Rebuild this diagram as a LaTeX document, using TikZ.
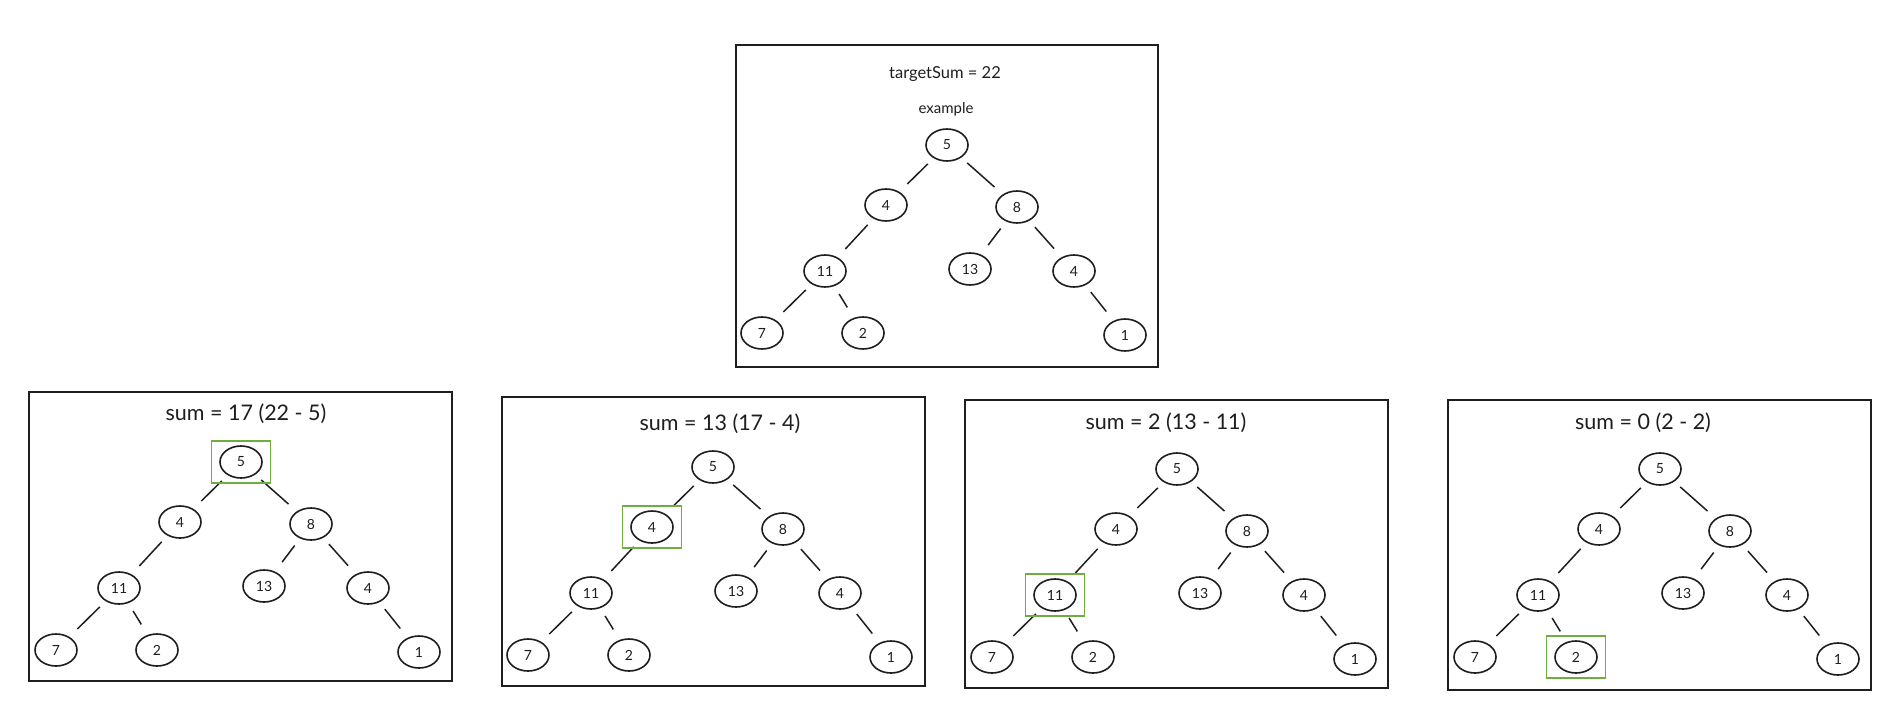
\documentclass[tikz,border=0pt]{standalone}
\usepackage{fontspec}
\setmainfont{Lato}
\usetikzlibrary{shapes.geometric}
\definecolor{ink}{HTML}{1E1E1E}
\definecolor{hlgreen}{HTML}{6FAE3E}

\tikzset{
  tnode/.style={ellipse, draw=ink, line width=1.6pt, minimum width=42pt,
    minimum height=32pt, inner sep=0pt, font=\fontsize{14}{16}\selectfont, text=ink},
  tedge/.style={draw=ink, line width=1.5pt, shorten <=27pt, shorten >=30pt},
  boxframe/.style={draw=ink, line width=1.4pt},
  treetitle/.style={font=\fontsize{21.5}{24}\selectfont, text=ink},
  smalltitle/.style={font=\fontsize{15}{18}\selectfont, text=ink},
  hlbox/.style={draw=hlgreen, line width=1.5pt, minimum width=59pt,
    minimum height=42pt, inner sep=0pt},
}

% one copy of the tree: #1 name prefix, #2/#3 position of the root
\newcommand\bintree[3]{%
  \node[tnode] (#1r) at (#2,#3) {5};
  \node[tnode] (#1a) at ({#2-61},{#3+60}) {4};
  \node[tnode] (#1b) at ({#2+70},{#3+62}) {8};
  \node[tnode] (#1c) at ({#2-122},{#3+126}) {11};
  \node[tnode] (#1d) at ({#2+23},{#3+124}) {13};
  \node[tnode] (#1e) at ({#2+127},{#3+126}) {4};
  \node[tnode] (#1f) at ({#2-185},{#3+188}) {7};
  \node[tnode] (#1g) at ({#2-84},{#3+188}) {2};
  \node[tnode] (#1h) at ({#2+178},{#3+190}) {1};
  \draw[tedge] (#1r.center) -- (#1a.center);
  \draw[tedge] (#1r.center) -- (#1b.center);
  \draw[tedge] (#1a.center) -- (#1c.center);
  \draw[tedge] (#1b.center) -- (#1d.center);
  \draw[tedge] (#1b.center) -- (#1e.center);
  \draw[tedge] (#1c.center) -- (#1f.center);
  \draw[tedge] (#1c.center) -- (#1g.center);
  \draw[tedge] (#1e.center) -- (#1h.center);
}

\begin{document}
\begin{tikzpicture}[x=1pt,y=-1pt]
  \fill[white] (0,0) rectangle (1896,712);
  \useasboundingbox (0,0) rectangle (1896,712);

  % the example tree
  \draw[boxframe] (736,45) rectangle (1158,367);
  \node[smalltitle, font=\fontsize{16.5}{18}\selectfont] (target) at (945,74) {targetSum = 22};
  \node[smalltitle] (example) at (946,109) {example};
  \bintree{t}{947}{145}

  % step 1: root
  \draw[boxframe] (29,392) rectangle (452,681);
  \node[treetitle] (s1) at (246,414) {sum = 17 (22 - 5)};
  \bintree{p}{241}{462}
  \node[hlbox] (hp) at (pr) {};

  % step 2: left child
  \draw[boxframe] (502,397) rectangle (925,686);
  \node[treetitle] (s2) at (720,424) {sum = 13 (17 - 4)};
  \bintree{q}{713}{467}
  \node[hlbox] (hq) at (qa) {};

  % step 3: node 11
  \draw[boxframe] (965,400) rectangle (1388,688);
  \node[treetitle] (s3) at (1166,423) {sum = 2 (13 - 11)};
  \bintree{u}{1177}{469}
  \node[hlbox] (hu) at (uc) {};

  % step 4: leaf 2
  \draw[boxframe] (1448,400) rectangle (1871,690);
  \node[treetitle] (s4) at (1643,423) {sum = 0 (2 - 2)};
  \bintree{v}{1660}{469}
  \node[hlbox] (hv) at (vg) {};
\end{tikzpicture}
\end{document}
